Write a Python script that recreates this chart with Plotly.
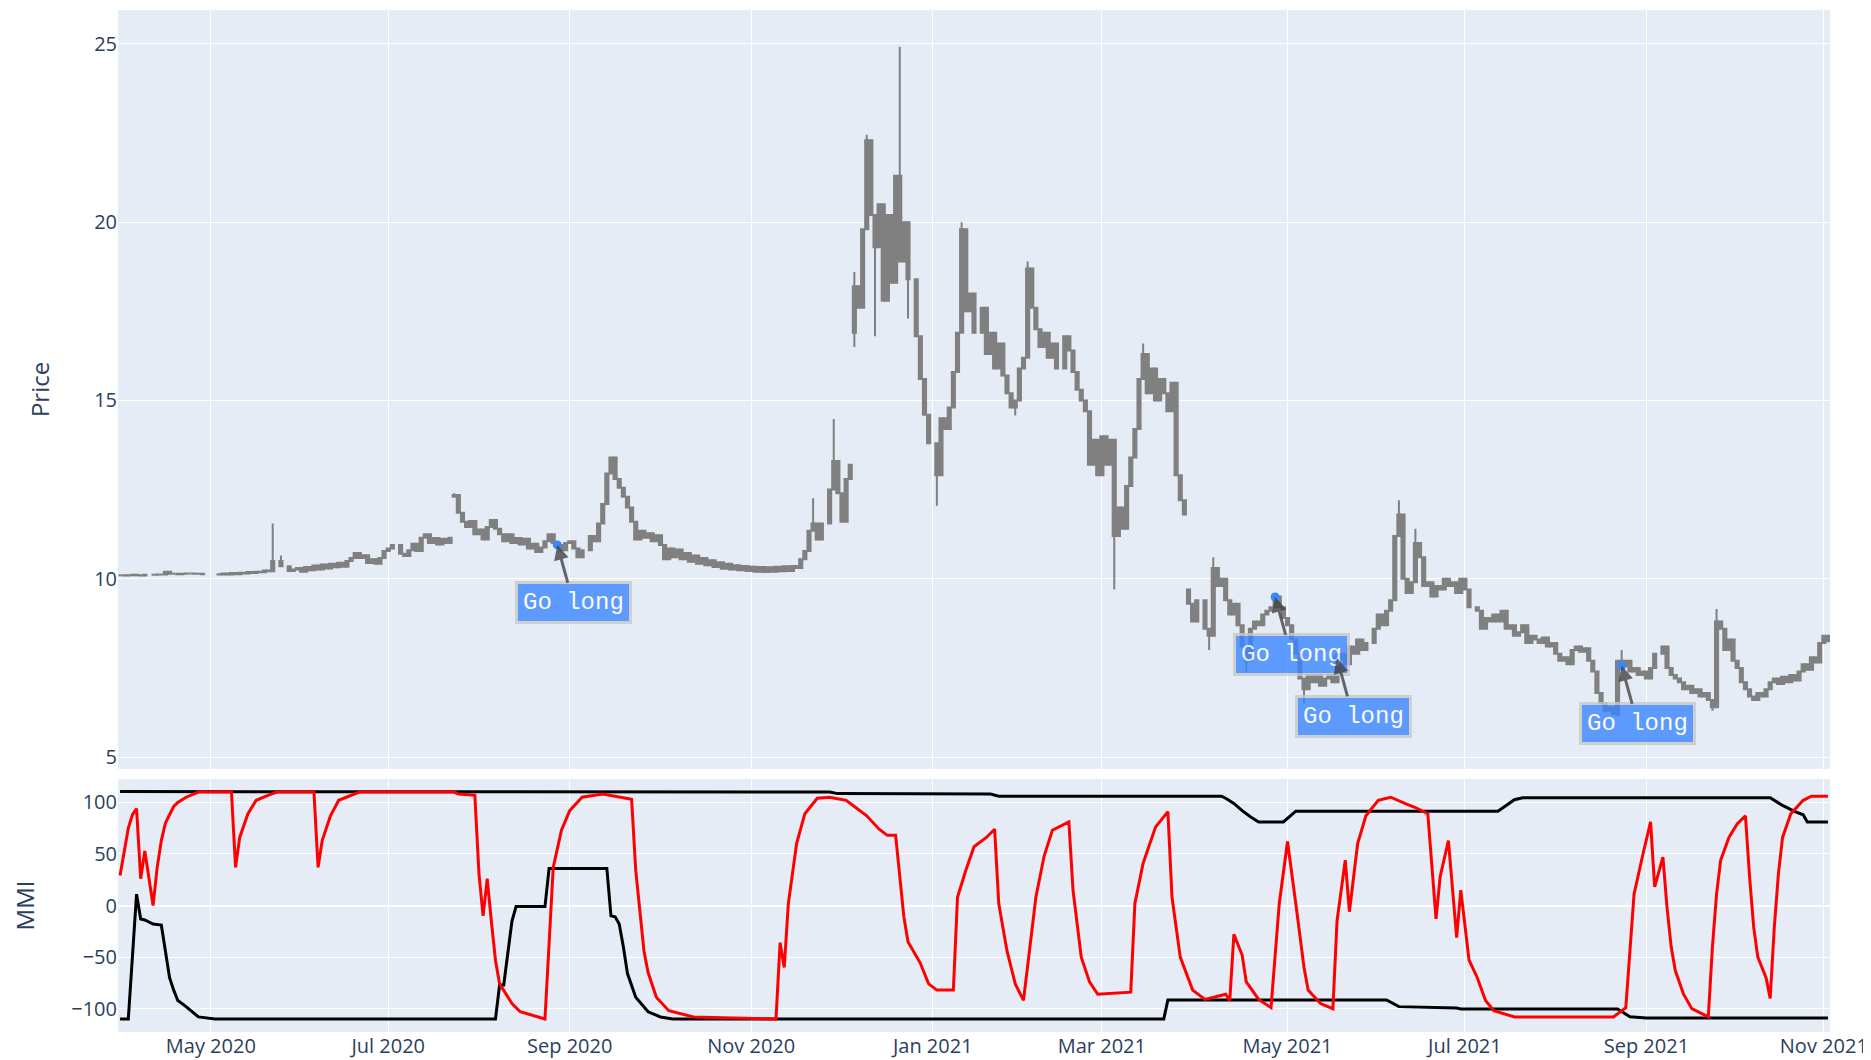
import pandas as pd
import plotly.graph_objects as go
from plotly.subplots import make_subplots

FIRST_DAY = "2020-04-01"
LAST_DAY = "2021-11-02"

# Daily closes, one entry per weekday (None = no trading that day)
close_2020_04 = [10.10, 10.09, 10.10, 10.11, 10.10, 10.09, 10.11, None, 10.11, 10.12, 10.12,
                 10.20, 10.14, 10.14, 10.13, 10.14, 10.15, 10.15, 10.14, 10.14, 10.13, None]
close_2020_05 = [None, None, 10.12, 10.15, 10.12, 10.16, 10.13, 10.17, 10.15, 10.19, 10.16,
                 10.20, 10.18, 10.23, 10.21, 10.50, None, 10.35, None, 10.22, 10.26]
close_2020_06 = [10.30, 10.20, 10.33, 10.24, 10.37, 10.26, 10.40, 10.29, 10.42, 10.32, 10.45,
                 10.34, 10.50, 10.58, 10.72, 10.58, 10.66, 10.44, 10.55, 10.42, 10.58, 10.78]
close_2020_07 = [10.85, 10.95, None, 10.70, 10.64, 10.80, 10.98, 10.78, 11.15, 11.25, 11.00,
                 11.14, 10.96, 11.12, 11.00, 11.15, 12.35, 11.85, 11.60, 11.45, 11.62, 11.25, 11.38]
close_2020_08 = [11.10, 11.45, 11.65, 11.40, 11.25, 11.05, 11.25, 11.00, 11.14, 10.96, 11.12,
                 10.85, 10.98, 10.75, 10.88, 11.05, 11.25, 11.00, 10.95, 10.80, 11.00]
close_2020_09 = [11.05, 10.85, 10.60, 10.80, None, 11.20, 11.05, 11.55, 12.10, 12.95, 13.40,
                 12.80, 12.55, 12.30, 12.00, 11.60, 11.10, 11.35, 11.15, 11.28, 11.05, 11.22]
close_2020_10 = [10.95, 10.55, 10.85, 10.60, 10.82, 10.55, 10.72, 10.48, 10.65, 10.42, 10.58,
                 10.38, 10.52, 10.33, 10.46, 10.28, 10.42, 10.26, 10.38, 10.24, 10.36, 10.22]
close_2020_11 = [10.34, 10.20, 10.33, 10.19, 10.32, 10.20, 10.34, 10.21, 10.35, 10.22, 10.36,
                 10.30, 10.55, 10.78, 11.35, 11.55, 11.10, 11.55, None, 12.50, 13.30]
close_2020_12 = [12.40, 11.60, 12.80, 13.20, 18.20, 17.60, 19.80, 22.30, 20.20, 19.30, 20.50,
                 17.80, 20.20, 18.30, 21.30, 18.90, 20.00, 18.40, None, 16.80, 15.60, 14.60, 13.80]
close_2021_01 = [None, 12.90, 14.50, 14.20, 14.80, 15.80, 16.90, 19.80, 17.50, 18.00, 16.90,
                 None, 17.60, 16.30, 16.90, 15.90, 16.60, 15.70, 15.20, 14.80, 15.00]
close_2021_02 = [15.90, 16.20, 18.70, 17.60, 17.00, 16.50, 16.90, 16.20, 16.60, 15.90, None,
                 16.80, 16.40, 15.80, 15.30, 15.00, 14.70, 13.20, 13.90, 12.90]
close_2021_03 = [14.00, 13.20, 13.90, 11.20, 12.00, 11.40, 12.60, 13.40, 14.20, 15.60, 16.30,
                 15.20, 15.90, 15.00, 15.60, 15.20, 14.70, 15.50, 12.90, 12.20, 11.80, 9.30, 8.80]
close_2021_04 = [9.40, None, 8.60, 8.40, 10.30, 9.80, 10.00, 9.40, 9.00, 9.30, 8.70,
                 8.10, 7.70, 8.60, 8.80, 8.70, 9.00, 9.10, 9.20, 9.50, 9.20, 8.90]
close_2021_05 = [8.70, 8.30, 7.90, 7.20, 6.90, 7.30, 7.10, 7.30, 7.00, 7.20, 7.30,
                 7.10, 7.75, 7.90, 7.60, 8.10, 7.90, 8.30, 8.00, 8.20, None]
close_2021_06 = [8.60, 9.00, 8.70, 9.10, 9.40, 11.20, 11.80, 10.00, 9.60, 9.90, 11.00,
                 10.60, 9.80, 9.90, 9.50, 9.80, 9.70, 10.00, 9.80, 9.90, 9.60, 10.00]
close_2021_07 = [9.70, 9.20, None, 9.10, 8.60, 8.90, 8.80, 9.00, 8.80, 9.10, 8.60,
                 8.70, 8.40, 8.50, 8.70, 8.20, 8.40, 8.30, 8.20, 8.35, 8.10, 8.20]
close_2021_08 = [7.90, 7.70, 7.80, 7.60, 8.00, 8.10, 7.95, 8.05, 7.70, 7.40, 6.80,
                 6.50, 6.30, 6.40, 6.20, 7.70, 7.55, 7.70, 7.40, 7.50, 7.30, 7.40]
close_2021_09 = [7.20, 7.50, 7.90, None, 8.10, 7.50, 7.30, 7.20, 7.10, 6.90, 7.00,
                 6.80, 6.90, 6.70, 6.80, 6.60, 6.40, 8.80, 8.60, 8.00, 8.30, 7.70]
close_2021_10 = [7.50, 7.10, 6.90, 6.70, 6.60, 6.80, 6.70, 6.90, 7.10, 7.20, 7.05,
                 7.25, 7.10, 7.30, 7.15, 7.40, 7.60, 7.45, 7.80, 7.65, 8.20]
close_2021_11 = [8.40, 8.25]

# Opening gaps and intraday extremes on notable days
gap_open = {"2020-07-23": 12.30, "2020-12-07": 16.90, "2021-03-30": 9.70}
extra_high = {"2020-05-22": 11.55, "2020-05-26": 10.65, "2020-07-23": 12.40,
              "2020-11-23": 12.26, "2020-11-30": 14.48, "2020-12-07": 18.60,
              "2020-12-10": 22.45, "2020-12-22": 24.92, "2021-01-12": 20.00,
              "2021-02-03": 18.90, "2021-03-04": 12.90, "2021-03-15": 16.60,
              "2021-04-07": 10.60, "2021-06-09": 12.20, "2021-06-15": 11.40,
              "2021-08-24": 8.00, "2021-09-24": 9.15}
extra_low = {"2020-12-07": 16.50, "2020-12-14": 16.80, "2020-12-24": 17.30,
             "2021-01-04": 12.05, "2021-01-29": 14.58, "2021-03-04": 9.70,
             "2021-04-06": 8.00, "2021-04-19": 7.40, "2021-05-07": 6.50,
             "2021-08-23": 6.14, "2021-09-23": 6.30}

# "Go long" signals
signal_dates = ["2020-08-27", "2021-04-28", "2021-05-19", "2021-08-24"]
signal_prices = [10.95, 9.49, 7.77, 7.56]
signal_text = "Go long"

# MMI lines: (weekday index from FIRST_DAY, value)
red_day = [0, 1, 2, 3, 4, 5, 6, 8, 9, 10, 11, 12, 13, 14, 16, 19, 27, 28, 29, 31, 33, 36, 38,
           47, 48, 49, 51, 53, 56, 58, 81, 82, 86, 87, 88, 89, 90, 91, 92, 95, 97, 103, 104,
           105, 107, 109, 112, 117, 124, 125, 127, 128, 130, 133, 139, 159, 160, 161, 162,
           164, 166, 169, 172, 176, 178, 181, 184, 186, 188, 190, 191, 194, 196, 198, 202,
           203, 205, 207, 210, 212, 213, 215, 217, 219, 222, 224, 226, 230, 231, 233, 235,
           237, 245, 246, 248, 251, 254, 255, 257, 260, 263, 268, 269, 270, 272, 273, 276,
           279, 281, 283, 285, 287, 288, 291, 294, 295, 297, 298, 300, 302, 305, 308, 312,
           314, 317, 318, 319, 320, 322, 324, 325, 327, 329, 331, 333, 338, 362, 365, 366,
           367, 369, 370, 371, 372, 374, 375, 376, 377, 379, 381, 385, 386, 387, 388, 390,
           392, 394, 395, 396, 397, 399, 400, 401, 402, 403, 405, 408, 410, 414]
red_val = [29, 53, 75, 88, 94, 26, 53, 0, 37, 63, 80, 88, 96, 100, 105, 110, 110, 37, 66, 89,
           102, 107, 110, 110, 37, 63, 87, 102, 107, 110, 110, 108, 107, 31, -10, 26, -15, -53,
           -76, -95, -103, -110, -37, 37, 73, 92, 105, 108, 103, 34, -44, -65, -89, -102, -108,
           -110, -36, -60, 2, 60, 89, 104, 105, 102, 96, 87, 74, 68, 68, -11, -35, -56, -76,
           -82, -82, 8, 34, 57, 66, 74, 2, -44, -76, -92, 8, 48, 73, 81, 15, -50, -74, -86,
           -84, 2, 41, 76, 91, 8, -50, -82, -91, -86, -92, -28, -48, -74, -91, -99, 2, 62, 2,
           -60, -82, -95, -100, -15, 44, -6, 60, 87, 102, 105, 98, 95, 89, 37, -13, 28, 63,
           -31, 15, -53, -70, -92, -102, -108, -108, -99, -40, 11, 47, 63, 81, 18, 47, -2,
           -40, -63, -86, -100, -108, -40, 11, 44, 66, 79, 87, 28, -21, -50, -70, -90, -21,
           31, 66, 89, 102, 106, 106]
upper_day = [0, 172, 174, 211, 213, 267, 268, 270, 272, 274, 276, 282, 285, 334, 336, 338,
             340, 400, 403, 406, 408, 409, 414]
upper_val = [110.5, 110, 108.5, 108, 106, 106, 104, 99, 92, 86, 81, 81, 91.5, 91.5, 97, 102.6,
             104.5, 104.5, 97, 91, 88, 81, 81]
lower_day = [0, 2, 4, 5, 6, 8, 10, 11, 12, 13, 14, 16, 19, 23, 91, 92, 93, 95, 96, 103, 104,
             118, 119, 120, 121, 122, 123, 125, 128, 131, 134, 253, 254, 307, 310, 324, 325,
             363, 366, 370, 414]
lower_val = [-110, -110, 11, -13, -14, -18, -19, -47, -70, -82, -92, -98, -108, -110, -110,
             -77, -77, -15, -1, -1, 36, 36, -10, -11, -18, -40, -66, -89, -103, -108, -110,
             -110, -91.5, -91.5, -98, -99.4, -100.3, -100.3, -107.8, -109, -109]

monthly = [close_2020_04, close_2020_05, close_2020_06, close_2020_07, close_2020_08,
           close_2020_09, close_2020_10, close_2020_11, close_2020_12, close_2021_01,
           close_2021_02, close_2021_03, close_2021_04, close_2021_05, close_2021_06,
           close_2021_07, close_2021_08, close_2021_09, close_2021_10, close_2021_11]
closes = [v for m in monthly for v in m]
days = pd.bdate_range(FIRST_DAY, LAST_DAY)
assert len(days) == len(closes), (len(days), len(closes))

c_x, c_o, c_h, c_l, c_c = [], [], [], [], []
prev = None
for d, val in zip(days, closes):
    if val is None:
        continue
    key = d.strftime("%Y-%m-%d")
    op = gap_open.get(key, prev if prev is not None else val)
    c_x.append(d)
    c_o.append(op)
    c_c.append(val)
    c_h.append(max(op, val, extra_high.get(key, val)))
    c_l.append(min(op, val, extra_low.get(key, val)))
    prev = val

fig = make_subplots(rows=2, cols=1, shared_xaxes=True, vertical_spacing=0.01,
                    row_heights=[0.75, 0.25])

fig.add_trace(go.Candlestick(
    x=c_x, open=c_o, high=c_h, low=c_l, close=c_c,
    increasing=dict(line=dict(color="grey"), fillcolor="grey"),
    decreasing=dict(line=dict(color="grey"), fillcolor="grey"),
    showlegend=False), row=1, col=1)

fig.add_trace(go.Scatter(x=signal_dates, y=signal_prices, mode="markers",
                         marker=dict(color="#3a86ff", size=9), showlegend=False),
              row=1, col=1)

fig.add_trace(go.Scatter(x=[days[i] for i in upper_day], y=upper_val, mode="lines",
                         line=dict(color="black", width=3), showlegend=False), row=2, col=1)
fig.add_trace(go.Scatter(x=[days[i] for i in lower_day], y=lower_val, mode="lines",
                         line=dict(color="black", width=3), showlegend=False), row=2, col=1)
fig.add_trace(go.Scatter(x=[days[i] for i in red_day], y=red_val, mode="lines",
                         line=dict(color="red", width=3), showlegend=False), row=2, col=1)

for d, p in zip(signal_dates, signal_prices):
    fig.add_annotation(x=d, y=p, xref="x", yref="y", text=signal_text, showarrow=True,
                       ax=16, ay=58,
                       font=dict(family="Liberation Mono, Courier New, monospace",
                                 size=24, color="white"),
                       bgcolor="#3a86ff", bordercolor="#c8c8c8", borderwidth=3, borderpad=5,
                       opacity=0.8, arrowcolor="#444444", arrowhead=2, arrowsize=1,
                       arrowwidth=3)

fig.update_xaxes(rangebreaks=[dict(bounds=["sat", "mon"])],
                 range=["2020-03-31 12:00", "2021-11-02 12:00"],
                 dtick="M2", tickformat="%b %Y", rangeslider_visible=False)
fig.update_yaxes(title_text="Price", title_standoff=37, range=[4.67, 25.95],
                 automargin=False, row=1, col=1)
fig.update_yaxes(title_text="MMI", title_standoff=37, range=[-122.6, 122.6],
                 automargin=False, row=2, col=1)

fig.update_layout(width=1863, height=1052, template="plotly",
                  margin=dict(l=110, r=41, t=2, b=28),
                  font=dict(size=20), showlegend=False,
                  boxgap=0.05, boxgroupgap=0.2)

fig.write_html("out.html")
